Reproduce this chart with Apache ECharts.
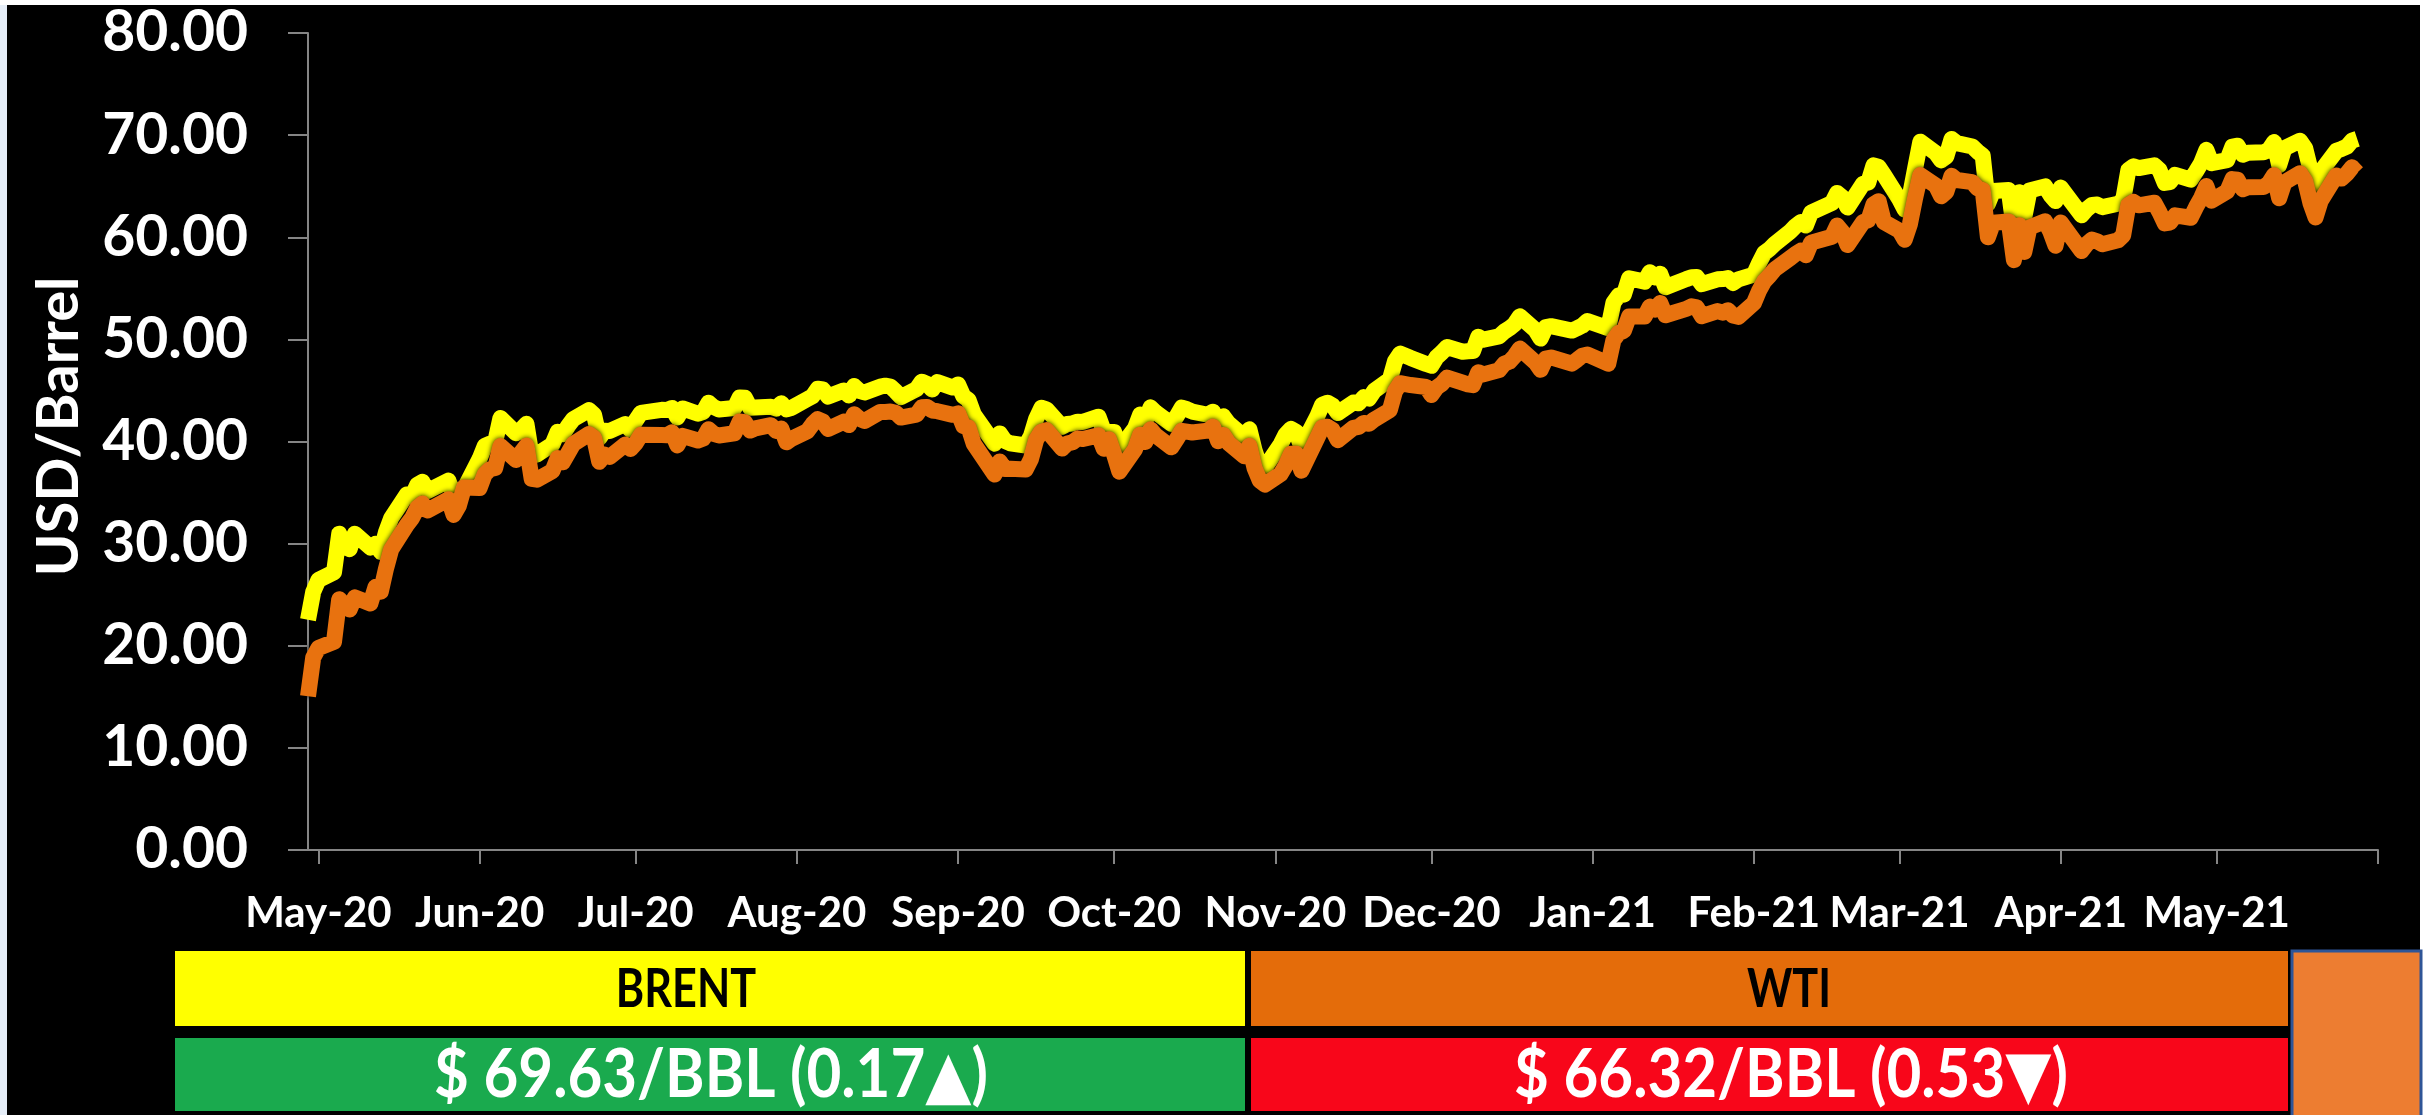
<!DOCTYPE html>
<html>
<head>
<meta charset="utf-8">
<title>Brent & WTI crude prices</title>
<script src="https://cdn.jsdelivr.net/npm/echarts@6/dist/echarts.min.js"></script>
<style>
  html, body { margin: 0; padding: 0; background: #ffffff; }
  #chart { width: 2433px; height: 1115px; }
</style>
</head>
<body>
<div id="chart"></div>
<script>
// Trading sessions, grouped by month: [year-month, days]
const sessionDays = [
  ['2020-04', [29, 30]],
  ['2020-05', [1, 4, 5, 6, 7, 8, 11, 12, 13, 14, 15, 18, 19, 20, 21, 22, 26, 27, 28, 29]],
  ['2020-06', [1, 2, 3, 4, 5, 8, 9, 10, 11, 12, 15, 16, 17, 18, 19, 22, 23, 24, 25, 26, 29, 30]],
  ['2020-07', [1, 2, 6, 7, 8, 9, 10, 13, 14, 15, 16, 17, 20, 21, 22, 23, 24, 27, 28, 29, 30, 31]],
  ['2020-08', [3, 4, 5, 6, 7, 10, 11, 12, 13, 14, 17, 18, 19, 20, 21, 24, 25, 26, 27, 28, 31]],
  ['2020-09', [1, 2, 3, 4, 8, 9, 10, 11, 14, 15, 16, 17, 18, 21, 22, 23, 24, 25, 28, 29, 30]],
  ['2020-10', [1, 2, 5, 6, 7, 8, 9, 12, 13, 14, 15, 16, 19, 20, 21, 22, 23, 26, 27, 28, 29, 30]],
  ['2020-11', [2, 3, 4, 5, 6, 9, 10, 11, 12, 13, 16, 17, 18, 19, 20, 23, 24, 25, 27, 30]],
  ['2020-12', [1, 2, 3, 4, 7, 8, 9, 10, 11, 14, 15, 16, 17, 18, 21, 22, 23, 24, 28, 29, 30, 31]],
  ['2021-01', [4, 5, 6, 7, 8, 11, 12, 13, 14, 15, 19, 20, 21, 22, 25, 26, 27, 28, 29]],
  ['2021-02', [1, 2, 3, 4, 5, 8, 9, 10, 11, 12, 16, 17, 18, 19, 22, 23, 24, 25, 26]],
  ['2021-03', [1, 2, 3, 4, 5, 8, 9, 10, 11, 12, 15, 16, 17, 18, 19, 22, 23, 24, 25, 26, 29, 30, 31]],
  ['2021-04', [1, 5, 6, 7, 8, 9, 12, 13, 14, 15, 16, 19, 20, 21, 22, 23, 26, 27, 28, 29, 30]],
  ['2021-05', [3, 4, 5, 6, 7, 10, 11, 12, 13, 14, 17, 18, 19, 20, 21, 24, 25, 26, 27, 28]]
];

// Brent settlement, USD/bbl (one row per month)
const brent = [
  22.54, 25.27,
  26.44, 27.20, 30.97, 29.72, 29.46, 30.97, 29.63, 29.98, 29.19, 31.13, 32.50, 34.81, 34.65, 35.75, 36.06, 35.13, 36.17, 34.74, 35.29, 35.33,
  38.32, 39.57, 39.79, 39.99, 42.30, 40.80, 41.18, 41.73, 38.55, 38.73, 39.72, 40.96, 40.71, 41.51, 42.19, 43.08, 42.63, 40.31, 41.05, 41.02, 41.71, 41.15,
  42.03, 42.80, 43.10, 43.08, 43.29, 42.35, 43.24, 42.72, 42.90, 43.79, 43.37, 43.14, 43.28, 44.32, 44.29, 43.31, 43.34, 43.41, 43.22, 43.75, 43.14, 43.30,
  44.15, 44.43, 45.17, 45.09, 44.40, 44.99, 44.50, 45.43, 44.96, 44.80, 45.37, 45.46, 45.37, 44.90, 44.35, 45.13, 45.86, 45.64, 45.09, 45.81, 45.28,
  45.58, 44.43, 44.07, 42.66, 39.78, 40.79, 40.06, 39.83, 39.61, 40.53, 42.22, 43.30, 43.15, 41.44, 41.72, 41.77, 41.94, 41.92, 42.43, 41.03, 40.95,
  40.93, 39.27, 41.29, 42.65, 41.99, 43.34, 42.85, 41.72, 42.45, 43.32, 43.16, 42.93, 42.62, 42.92, 41.73, 42.46, 41.77, 40.46, 41.20, 39.12, 37.65, 37.46,
  39.71, 40.71, 41.23, 40.93, 39.45, 42.40, 43.61, 43.80, 43.53, 42.78, 43.82, 43.75, 44.34, 44.20, 44.96, 46.06, 47.86, 48.61, 48.18, 47.59,
  47.42, 48.25, 48.71, 49.25, 48.79, 48.84, 48.86, 50.25, 49.97, 50.29, 50.76, 51.08, 51.50, 52.26, 50.91, 50.08, 51.20, 51.29, 50.86, 51.09, 51.34, 51.80,
  51.09, 53.60, 54.30, 54.38, 55.99, 55.66, 56.58, 56.06, 56.42, 55.10, 55.90, 56.08, 56.10, 55.41, 55.88, 55.91, 56.00, 55.53, 55.88,
  56.35, 57.46, 58.46, 58.84, 59.34, 60.56, 61.09, 61.47, 61.14, 62.43, 63.35, 64.34, 63.93, 62.91, 65.24, 65.37, 67.04, 66.88, 66.13,
  63.69, 62.70, 64.07, 66.74, 69.36, 68.24, 67.52, 67.90, 69.63, 69.22, 68.88, 68.39, 68.00, 63.28, 64.53, 64.62, 60.79, 64.41, 61.95, 64.57, 64.98, 64.14, 63.54,
  64.86, 62.15, 62.74, 63.16, 63.20, 62.95, 63.28, 63.67, 66.58, 66.94, 66.77, 67.05, 66.57, 65.32, 65.40, 66.11, 65.65, 66.42, 67.27, 68.56, 67.25,
  67.56, 68.88, 68.96, 68.09, 68.28, 68.32, 68.55, 69.32, 67.05, 68.71, 69.46, 68.71, 66.66, 65.11, 66.44, 68.46, 68.65, 68.87, 69.46, 69.63
];

// WTI settlement, USD/bbl (one row per month)
const wti = [
  15.06, 18.84,
  19.78, 20.39, 24.56, 23.99, 23.55, 24.74, 24.14, 25.78, 25.29, 27.56, 29.43, 31.82, 32.50, 33.49, 33.92, 33.25, 34.35, 32.81, 33.71, 35.49,
  35.44, 36.81, 37.29, 37.41, 39.55, 38.19, 38.94, 39.60, 36.34, 36.26, 37.12, 38.38, 37.96, 38.84, 39.75, 40.73, 40.37, 38.01, 38.72, 38.49, 39.70, 39.27,
  39.82, 40.65, 40.63, 40.62, 40.90, 39.62, 40.55, 40.10, 40.29, 41.20, 40.75, 40.59, 40.81, 41.96, 41.90, 41.07, 41.29, 41.60, 41.04, 41.27, 39.92, 40.27,
  41.01, 41.70, 42.19, 41.95, 41.22, 41.94, 41.61, 42.67, 42.24, 42.01, 42.89, 42.89, 42.93, 42.82, 42.34, 42.62, 43.35, 43.39, 43.04, 42.97, 42.61,
  42.76, 41.51, 41.37, 39.77, 36.76, 38.05, 37.30, 37.33, 37.26, 38.28, 40.16, 40.97, 41.11, 39.31, 39.80, 39.93, 40.31, 40.25, 40.60, 39.29, 40.22,
  38.72, 37.05, 39.22, 40.67, 39.95, 41.19, 40.60, 39.43, 40.20, 41.04, 40.96, 40.88, 41.06, 41.46, 40.03, 40.64, 39.85, 38.56, 39.57, 37.39, 36.17, 35.79,
  36.81, 37.66, 38.79, 38.79, 37.14, 40.29, 41.36, 41.45, 41.12, 40.13, 41.34, 41.43, 41.82, 41.74, 42.15, 43.06, 44.91, 45.71, 45.53, 45.34,
  44.55, 45.28, 45.64, 46.26, 45.76, 45.60, 45.52, 46.78, 46.57, 46.99, 47.62, 47.82, 48.36, 49.10, 47.74, 47.02, 48.12, 48.23, 47.62, 48.00, 48.40, 48.52,
  47.62, 49.93, 50.63, 50.83, 52.24, 52.25, 53.21, 52.91, 53.57, 52.36, 52.98, 53.24, 53.13, 52.27, 52.77, 52.61, 52.85, 52.34, 52.20,
  53.55, 54.76, 55.69, 56.23, 56.85, 57.97, 58.36, 58.68, 58.24, 59.47, 60.05, 61.14, 60.52, 59.24, 61.49, 61.67, 63.22, 63.53, 61.50,
  60.64, 59.75, 61.28, 63.83, 66.09, 65.05, 64.01, 64.44, 66.02, 65.61, 65.39, 64.80, 64.60, 60.00, 61.42, 61.55, 57.76, 61.18, 58.56, 60.97, 61.56, 60.55, 59.16,
  61.45, 58.65, 59.33, 59.77, 59.60, 59.32, 59.70, 60.18, 63.15, 63.46, 63.13, 63.38, 62.44, 61.35, 61.43, 62.14, 61.91, 62.94, 63.86, 65.01, 63.58,
  64.49, 65.69, 65.63, 64.71, 64.90, 64.92, 65.28, 66.08, 63.82, 65.37, 66.27, 65.49, 63.36, 61.94, 63.58, 66.05, 65.76, 66.21, 66.85, 66.32
];

// Month ticks along the date axis (the last one carries no label)
const monthTicks = ['2020-05-01', '2020-06-01', '2020-07-01', '2020-08-01', '2020-09-01', '2020-10-01', '2020-11-01',
  '2020-12-01', '2021-01-01', '2021-02-01', '2021-03-01', '2021-04-01', '2021-05-01', '2021-06-01'];
const monthLabels = ['May-20', 'Jun-20', 'Jul-20', 'Aug-20', 'Sep-20', 'Oct-20', 'Nov-20',
  'Dec-20', 'Jan-21', 'Feb-21', 'Mar-21', 'Apr-21', 'May-21'];

// Y axis ticks
const yTicks = [0, 10, 20, 30, 40, 50, 60, 70, 80];

// Latest quotes shown in the banner under the chart
const quoteNames = ['BRENT', 'WTI'];
const quoteTexts = ['$ 69.63/BBL (0.17\u25B2)', '$ 66.32/BBL (0.53\u25BC)'];

// ---------------------------------------------------------------
function toTime(iso) {
  const p = iso.split('-').map(Number);
  return Date.UTC(p[0], p[1] - 1, p[2]);
}
const dates = [];
sessionDays.forEach(([ym, days]) => {
  days.forEach(d => dates.push(ym + '-' + String(d).padStart(2, '0')));
});
const brentData = dates.map((d, i) => [toTime(d), brent[i]]);
const wtiData = dates.map((d, i) => [toTime(d), wti[i]]);
const tickTimes = monthTicks.map(toTime);
const labelByTime = {};
monthLabels.forEach((l, i) => { labelByTime[tickTimes[i]] = l; });

const FONT = 'Lato, "Open Sans", "DejaVu Sans", sans-serif';
const AXIS_GREY = '#858585';

// banner text helper: condensed bold text centred on (x, y)
function bannerText(text, x, y, size, squeeze, color) {
  return {
    type: 'text', x: x, y: y, z: 101, scaleX: squeeze, scaleY: 1,
    style: { text: text, fill: color, fontFamily: FONT, fontWeight: 'bold', fontSize: size, align: 'center', verticalAlign: 'middle' }
  };
}

const chart = echarts.init(document.getElementById('chart'), null, { renderer: 'canvas' });

chart.setOption({
  backgroundColor: '#000000',
  animation: false,
  grid: { left: 308, right: 55, top: 33, bottom: 265 },
  xAxis: {
    // dates as epoch milliseconds on a linear scale, ticked at month starts
    type: 'value',
    min: toTime('2020-04-29'),
    max: toTime('2021-06-01'),
    axisLine: { show: true, lineStyle: { color: AXIS_GREY, width: 2 } },
    axisTick: { show: true, length: 14, customValues: tickTimes, lineStyle: { color: AXIS_GREY, width: 2 } },
    axisLabel: {
      customValues: tickTimes.slice(0, monthLabels.length),
      formatter: v => labelByTime[v] || '',
      color: '#ffffff', fontFamily: FONT, fontWeight: 'bold', fontSize: 42, margin: 42,
      hideOverlap: false
    },
    splitLine: { show: false }
  },
  yAxis: {
    type: 'value',
    min: yTicks[0],
    max: yTicks[yTicks.length - 1],
    interval: 10,
    name: 'USD/Barrel',
    nameLocation: 'middle',
    nameGap: 220,
    nameTextStyle: { color: '#ffffff', fontFamily: FONT, fontWeight: 'bold', fontSize: 58, padding: [0, 0, 0, 30] },
    axisLine: { show: true, lineStyle: { color: AXIS_GREY, width: 2 } },
    axisTick: { show: true, length: 20, lineStyle: { color: AXIS_GREY, width: 2 } },
    axisLabel: {
      formatter: v => v.toFixed(2),
      color: '#ffffff', fontFamily: FONT, fontWeight: 'bold', fontSize: 57, margin: 60
    },
    splitLine: { show: false }
  },
  series: [
    {
      name: 'BRENT', type: 'line', data: brentData,
      showSymbol: false, symbol: 'none', z: 2,
      itemStyle: { color: '#ffff00' },
      lineStyle: { color: '#ffff00', width: 16, join: 'round', cap: 'butt' }
    },
    {
      name: 'WTI', type: 'line', data: wtiData,
      showSymbol: false, symbol: 'none', z: 3,
      itemStyle: { color: '#e8720f' },
      lineStyle: {
        color: '#e8720f', width: 16, join: 'round', cap: 'butt',
        shadowColor: 'rgba(0,0,0,0.9)', shadowBlur: 5
      }
    }
  ],
  graphic: [
    // page margins around the dark panel
    { type: 'rect', shape: { x: 0, y: 0, width: 7, height: 1115 }, style: { fill: '#e6eef8' }, z: 100 },
    { type: 'rect', shape: { x: 0, y: 0, width: 2433, height: 5 }, style: { fill: '#ffffff' }, z: 100 },
    { type: 'rect', shape: { x: 2420, y: 0, width: 13, height: 1115 }, style: { fill: '#ffffff' }, z: 100 },
    // banner: names
    { type: 'rect', shape: { x: 175, y: 951, width: 1070, height: 75 }, style: { fill: '#ffff00' }, z: 100 },
    { type: 'rect', shape: { x: 1251, y: 951, width: 1037, height: 75 }, style: { fill: '#e46c0a' }, z: 100 },
    // banner: quotes
    { type: 'rect', shape: { x: 175, y: 1038, width: 1070, height: 73 }, style: { fill: '#1aaa4e' }, z: 100 },
    { type: 'rect', shape: { x: 1251, y: 1038, width: 1037, height: 73 }, style: { fill: '#f8061a' }, z: 100 },
    bannerText(quoteNames[0], 686, 990, 54, 0.8, '#000000'),
    bannerText(quoteNames[1], 1789, 990, 54, 0.8, '#000000'),
    bannerText(quoteTexts[0], 711, 1076, 66, 0.91, '#ffffff'),
    bannerText(quoteTexts[1], 1791, 1076, 66, 0.91, '#ffffff'),
    // orange tab on the right edge
    {
      type: 'rect', shape: { x: 2292, y: 951, width: 129, height: 170 }, z: 102,
      style: { fill: '#ed7d31', stroke: '#2f5597', lineWidth: 3 }
    }
  ]
});
</script>
</body>
</html>
